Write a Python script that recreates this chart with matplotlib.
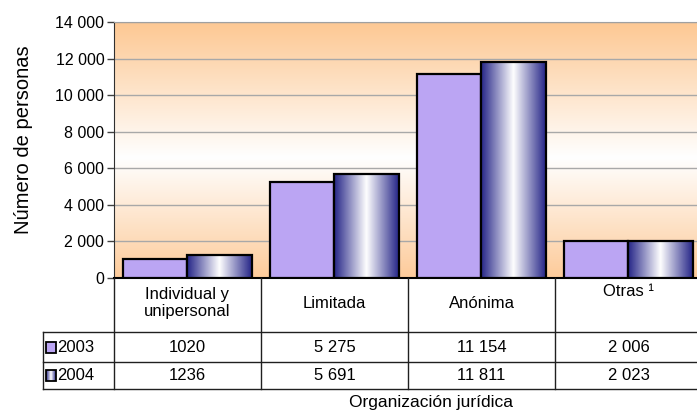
import numpy as np
import matplotlib
matplotlib.use('Agg')
import matplotlib.pyplot as plt
from matplotlib.colors import LinearSegmentedColormap
from matplotlib.patches import Rectangle

plt.rcParams['font.family'] = ['Liberation Sans', 'DejaVu Sans']

# data
categorias = ['Individual y\nunipersonal', 'Limitada', 'Anónima', 'Otras ¹']
anios = ['2003', '2004']
v2003 = [1020, 5275, 11154, 2006]
v2004 = [1236, 5691, 11811, 2023]
etiq2003 = ['1020', '5 275', '11 154', '2 006']
etiq2004 = ['1236', '5 691', '11 811', '2 023']
yticks = [0, 2000, 4000, 6000, 8000, 10000, 12000, 14000]
yticklabels = ['0', '2 000', '4 000', '6 000', '8 000', '10 000', '12 000', '14 000']

W, H = 697, 412
fig = plt.figure(figsize=(W / 100, H / 100), dpi=100)

lav = '#BBA5F3'
navy_cmap = LinearSegmentedColormap.from_list(
    'cyl', [(0, '#262688'), (0.5, '#FFFFFF'), (1, '#262688')])
bg_cmap = LinearSegmentedColormap.from_list(
    'bg', [(0, '#FDCB9A'), (0.47, '#FFFFFF'), (1, '#FDC893')])

# main plot area (extends a bit past the right edge, like the original)
x0, x1, ytop, ybot = 114, 702, 22, 278
ax = fig.add_axes([x0 / W, 1 - ybot / H, (x1 - x0) / W, (ybot - ytop) / H])

grad = np.linspace(0, 1, 256).reshape(-1, 1)
ax.imshow(grad, extent=(-0.5, 3.5, 0, 14000), origin='lower', aspect='auto',
          cmap=bg_cmap, zorder=0)

x = np.arange(len(categorias))
w = 0.44
ax.bar(x - w / 2, v2003, w, color=lav, edgecolor='black', linewidth=1.6, zorder=3)
bars2 = ax.bar(x + w / 2, v2004, w, color='none', edgecolor='black',
               linewidth=1.6, zorder=4)
hgrad = np.linspace(0, 1, 128).reshape(1, -1)
for b in bars2:
    bx, by = b.get_x(), b.get_y()
    im = ax.imshow(hgrad, extent=(bx, bx + b.get_width(), by, by + b.get_height()),
                   aspect='auto', cmap=navy_cmap, zorder=3.5)
    im.set_clip_path(b)

ax.set_xlim(-0.5, 3.5)
ax.set_ylim(0, 14000)
ax.set_xticks([])
ax.set_yticks(yticks)
ax.set_yticklabels(yticklabels, fontsize=11.5)
ax.tick_params(axis='y', length=5, width=1, color='#404040', pad=2)
ax.yaxis.grid(True, color='#A8A8A8', linewidth=1)
ax.set_axisbelow(True)
ax.spines['top'].set_color('#A0A0A0')
ax.spines['right'].set_visible(False)
ax.spines['left'].set_color('#303030')
ax.spines['bottom'].set_color('black')
ax.spines['bottom'].set_linewidth(1.5)

# data table below the plot
tl, tb = 43, 389
tax = fig.add_axes([tl / W, 1 - tb / H, (x1 - tl) / W, (tb - ybot) / H])
tax.set_xlim(tl, x1)
tax.set_ylim(tb, ybot)
tax.axis('off')
lc = '#202020'
colw = (x1 - x0) / len(categorias)
r1, r2 = 332, 362
for i in range(len(categorias) + 1):
    tax.plot([x0 + i * colw] * 2, [ybot, tb], color=lc, lw=1, clip_on=False)
for yy in (r1, r2, tb):
    tax.plot([tl, x1], [yy, yy], color=lc, lw=1, clip_on=False)
tax.plot([tl, tl], [r1, tb], color=lc, lw=1, clip_on=False)

fs = 12
for i, cat in enumerate(categorias):
    cx = x0 + (i + 0.5) * colw
    cy = 292 if cat.startswith('Otras') else 303
    tax.text(cx, cy, cat, ha='center', va='center', fontsize=fs, linespacing=1.2)
    tax.text(cx, (r1 + r2) / 2, etiq2003[i], ha='center', va='center', fontsize=fs)
    tax.text(cx, (r2 + tb) / 2, etiq2004[i], ha='center', va='center', fontsize=fs)

# legend keys in the table
tax.add_patch(Rectangle((46, 342), 10, 11, facecolor=lav, edgecolor='black', lw=1.3))
tax.imshow(hgrad, extent=(46, 56, 381, 370), aspect='auto', cmap=navy_cmap, zorder=2)
tax.add_patch(Rectangle((46, 370), 10, 11, facecolor='none', edgecolor='black',
                        lw=1.3, zorder=3))
tax.set_xlim(tl, x1)
tax.set_ylim(tb, ybot)
tax.text(57, (r1 + r2) / 2, anios[0], ha='left', va='center', fontsize=fs)
tax.text(57, (r2 + tb) / 2, anios[1], ha='left', va='center', fontsize=fs)

fig.text(24 / W, 1 - 140 / H, 'Número de personas', rotation=90,
         ha='center', va='center', fontsize=14.5)
fig.text(431 / W, 1 - 403 / H, 'Organización jurídica', ha='center',
         va='center', fontsize=12.5)

fig.savefig('out.png', dpi=100)
